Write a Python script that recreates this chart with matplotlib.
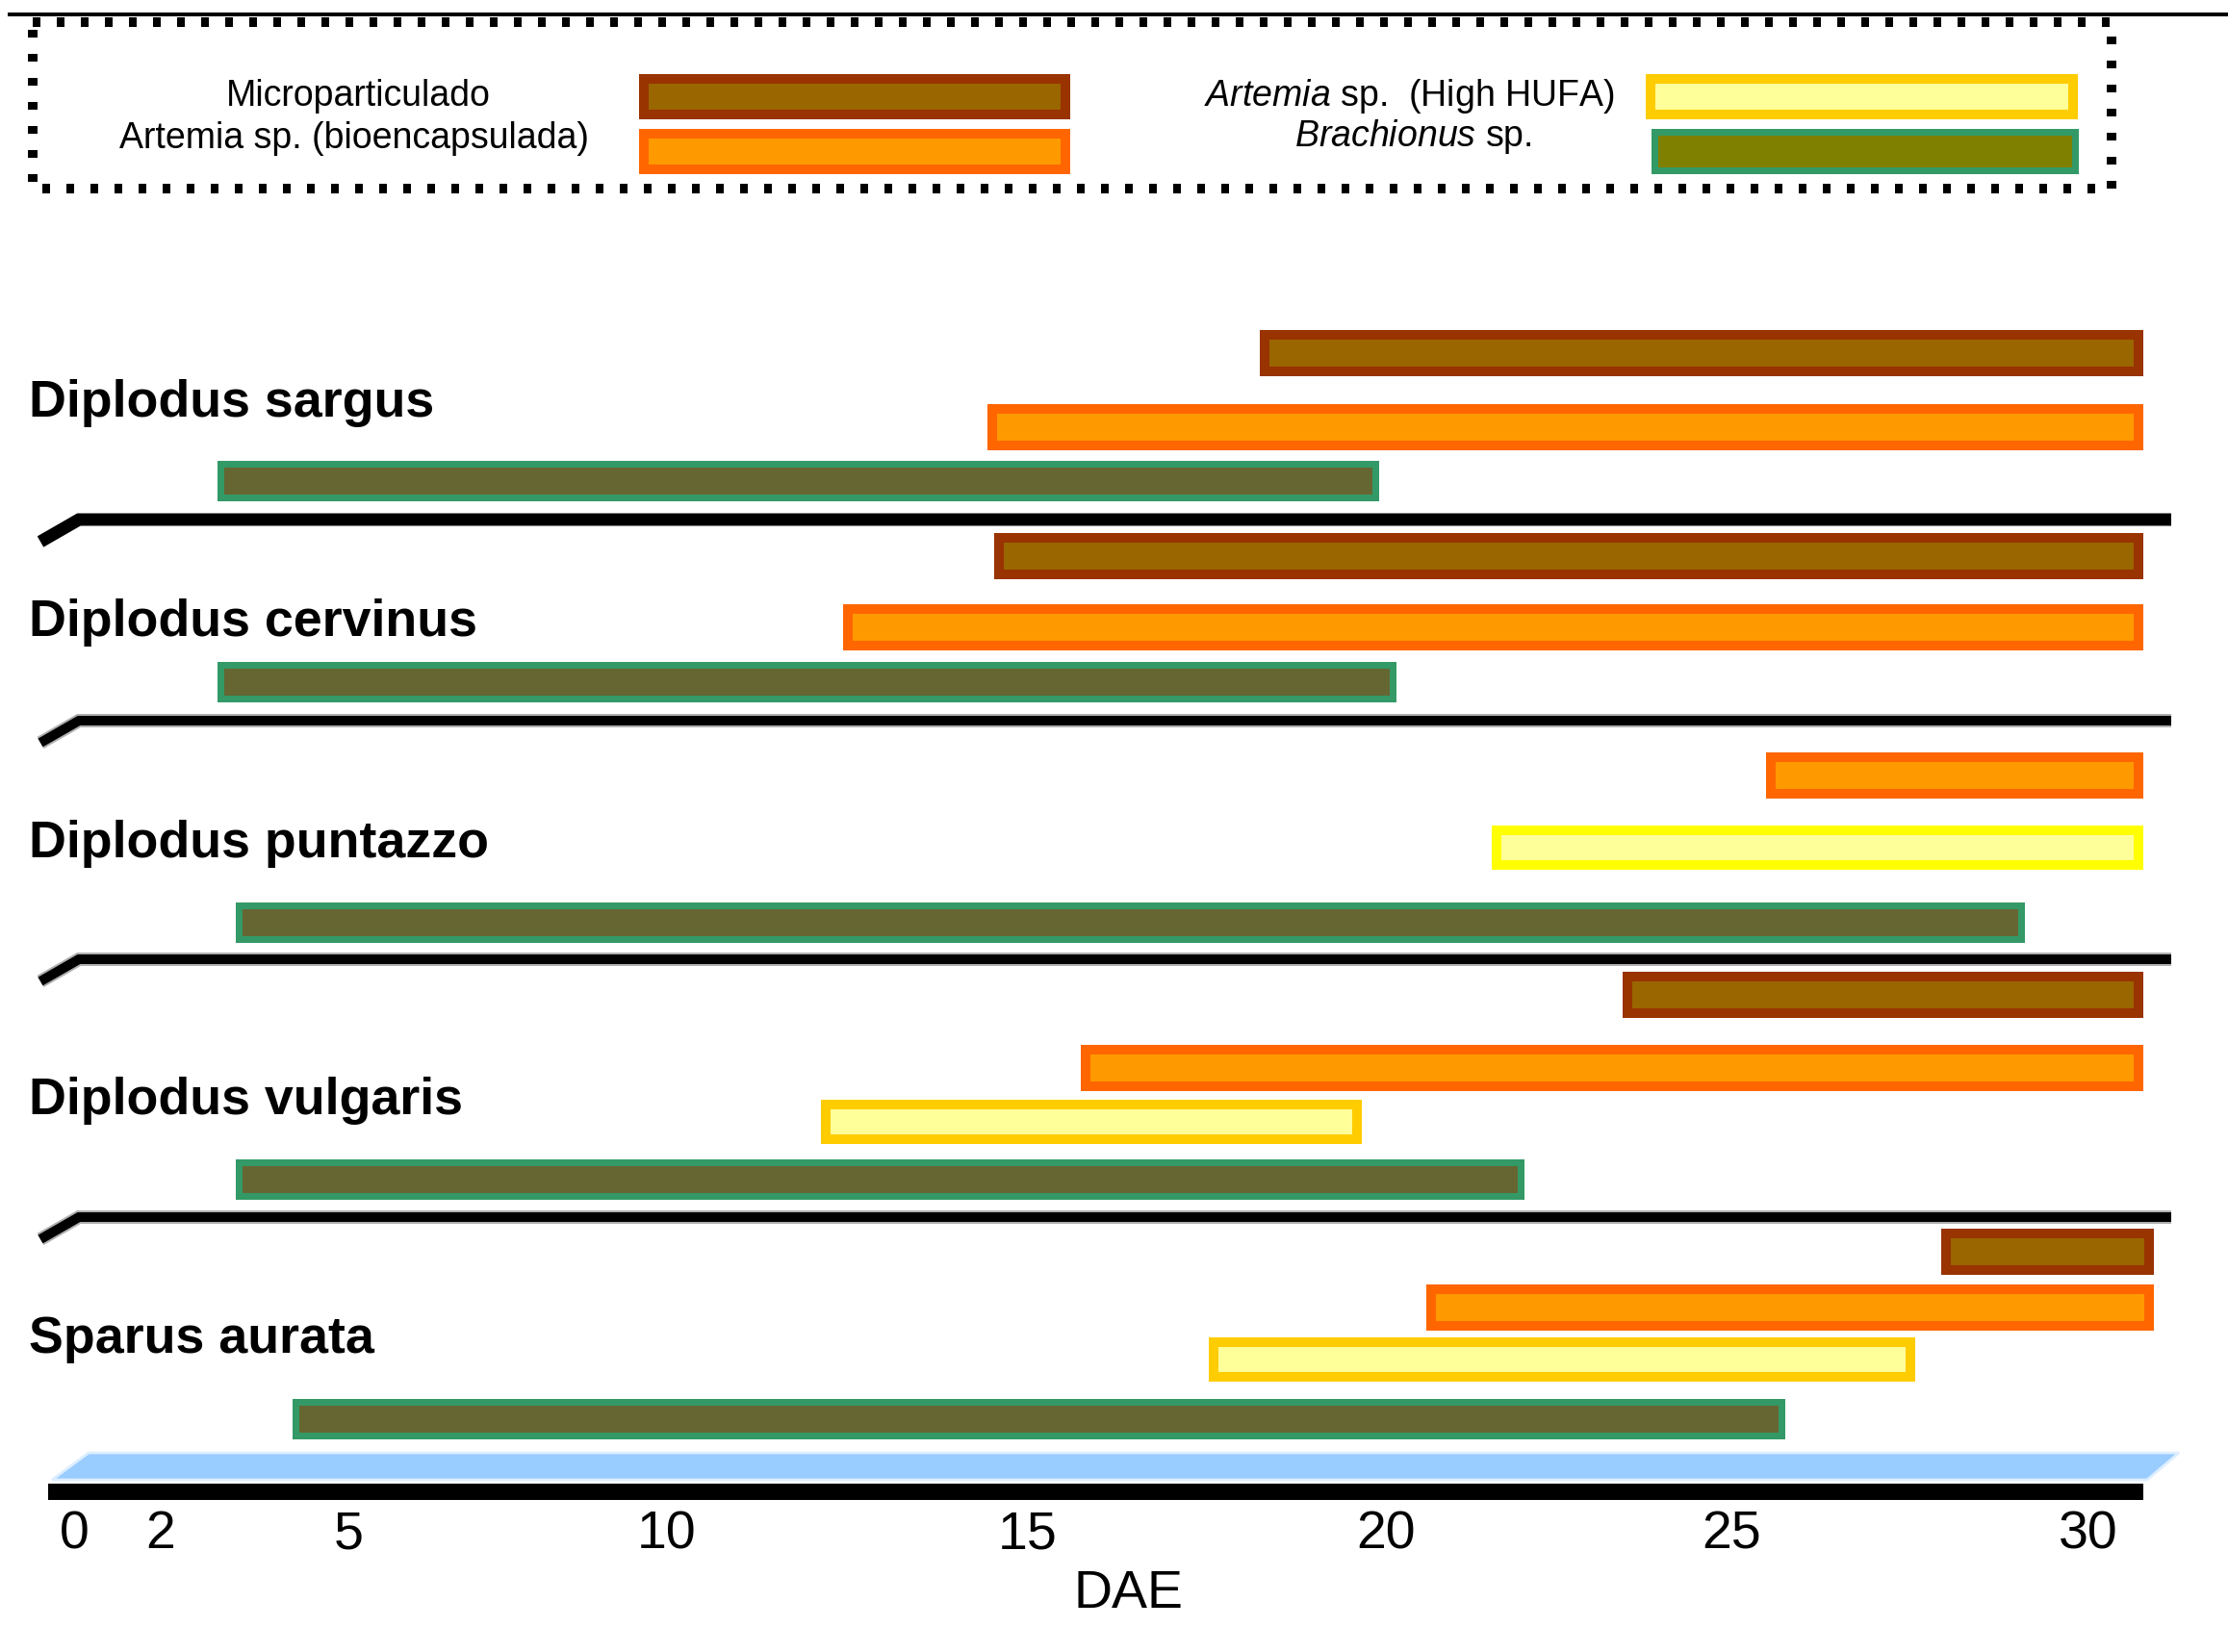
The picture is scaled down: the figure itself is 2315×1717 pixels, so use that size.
"""Feeding schedule of sparid larvae (days after hatching)"""
import numpy as np
import matplotlib
matplotlib.use('Agg')
from matplotlib import pyplot as plt
from matplotlib.patches import Rectangle, Polygon

# ---- data -----------------------------------------------------------------
species = ['Diplodus sargus', 'Diplodus cervinus', 'Diplodus puntazzo',
           'Diplodus vulgaris', 'Sparus aurata']
feeds = ['Microparticulado', 'Artemia sp. (bioencapsulada)',
         'Artemia sp. (High HUFA)', 'Brachionus sp.']
nan = np.nan
micro_start = [18.3, 14.6, nan, 23.5, 28.0]
micro_end = [30.7, 30.7, nan, 30.7, 30.85]
bio_start = [14.5, 12.5, 25.55, 15.8, 20.65]
bio_end = [30.7, 30.7, 30.7, 30.7, 30.85]
hufa_start = [nan, nan, 21.6, 12.2, 17.6]
hufa_end = [nan, nan, 30.7, 19.6, 27.5]
brach_start = [2.95, 2.95, 3.25, 3.25, 4.15]
brach_end = [19.85, 20.1, 29.05, 21.95, 25.7]
tick_days = [0, 2, 5, 10, 15, 20, 25, 30]

# ---- layout ---------------------------------------------------------------
W, H = 2315, 1717
# the day axis of the source is not evenly spaced: where each tick sits (px)
tick_pos = [77, 167, 362, 693, 1068, 1440, 1799, 2170]
rows_micro = [367, 578, nan, 1034, 1301]
rows_bio = [444, 652, 806, 1110, 1359]
rows_hufa = [nan, nan, 881, 1166, 1413]
rows_brach = [500, 709, 958, 1225, 1474]
label_baseline = [433, 661, 891, 1158, 1406]
separators = [540, 749, 997, 1265]
hufa_edges = ['#FFCC00', '#FFCC00', '#FFFF00', '#FFCC00', '#FFCC00']

PT = 0.72  # points per pixel at dpi 100
plt.rcParams['font.family'] = ['Liberation Sans', 'DejaVu Sans']
plt.rcParams['mathtext.fontset'] = 'custom'
plt.rcParams['mathtext.it'] = 'Liberation Sans:italic'
plt.rcParams['mathtext.rm'] = 'Liberation Sans'


def _piecewise(v, xs, ys):
    v = np.asarray(v, dtype=float)
    out = np.interp(v, xs, ys)
    s0 = (ys[1] - ys[0]) / (xs[1] - xs[0])
    s1 = (ys[-1] - ys[-2]) / (xs[-1] - xs[-2])
    out = np.where(v < xs[0], ys[0] + (v - xs[0]) * s0, out)
    out = np.where(v > xs[-1], ys[-1] + (v - xs[-1]) * s1, out)
    return out


def day_to_pos(d):
    return _piecewise(d, tick_days, tick_pos)


def pos_to_day(p):
    return _piecewise(p, tick_pos, tick_days)


fig = plt.figure(figsize=(W / 100, H / 100), dpi=100)
deco = fig.add_axes([0, 0, 1, 1])
deco.set_xlim(0, W)
deco.set_ylim(H, 0)
deco.axis('off')

ax = fig.add_axes([0, 0, 1, 1])
ax.patch.set_alpha(0)
ax.set_xscale('function', functions=(day_to_pos, pos_to_day))
ax.set_xlim(float(pos_to_day(0)), float(pos_to_day(W)))
ax.set_ylim(H, 0)
for s in ax.spines.values():
    s.set_visible(False)
ax.spines['bottom'].set_position(('data', 1559))
ax.set_yticks([])
ax.set_xticks(tick_days)
ax.set_xticklabels([str(t) for t in tick_days], fontsize=40)
ax.tick_params(axis='x', length=0, pad=10 * PT)
ax.set_xlabel('DAE', fontsize=40)
ax.xaxis.set_label_coords(1172 / W, 1 - 1631 / H)


def draw_bars(starts, ends, rows, face, edge, lw_px, h_outer):
    edges = edge if isinstance(edge, list) else [edge] * len(starts)
    for a, b, y, ec in zip(starts, ends, rows, edges):
        if np.isnan(a):
            continue
        ax.barh(y, b - a, left=a, height=h_outer - lw_px, color=face,
                edgecolor=ec, linewidth=lw_px * PT, joinstyle='miter')


draw_bars(micro_start, micro_end, rows_micro, '#996600', '#993300', 10, 48)
draw_bars(bio_start, bio_end, rows_bio, '#FF9900', '#FF6600', 10, 48)
draw_bars(hufa_start, hufa_end, rows_hufa, '#FFFF99', hufa_edges, 10, 46)
draw_bars(brach_start, brach_end, rows_brach, '#666633', '#339966', 7, 42)

# species names
for name, yb in zip(species, label_baseline):
    deco.text(30, yb, name, fontsize=38.7, fontweight='bold', va='baseline')

# separators with the little slanted start
for i, ys in enumerate(separators):
    xs_ = [42, 82, 2256]
    yy = [ys + 23, ys, ys]
    if i > 0:
        deco.plot(xs_, yy, color='#B0B0B0', lw=14 * PT, solid_capstyle='butt',
                  solid_joinstyle='miter')
    deco.plot(xs_, yy, color='black', lw=(13 if i == 0 else 10) * PT,
              solid_capstyle='butt', solid_joinstyle='miter')

# base of the time axis
deco.add_patch(Polygon([(92, 1510), (2264, 1510), (2231, 1538), (54, 1538)],
                       closed=True, fc='#99CCFF', ec='#DDEEFF', lw=2))
deco.add_patch(Rectangle((50, 1542), 2227 - 50, 17, fc='black', ec='none'))

# legend box
deco.plot([8, W], [15, 15], color='black', lw=4 * PT, solid_capstyle='butt')
deco.add_patch(Rectangle((34, 23), 2194 - 34, 196 - 23, fill=False, ec='black',
                         lw=10 * PT, linestyle=(0, (0.8, 1.7))))


def swatch(x0, y0, x1, y1, face, edge, lw_px):
    h = lw_px / 2
    deco.add_patch(Rectangle((x0 + h, y0 + h), x1 - x0 - 2 * h, y1 - y0 - 2 * h,
                             fc=face, ec=edge, lw=lw_px * PT, joinstyle='miter'))


swatch(664, 77, 1112, 124, '#996600', '#993300', 10)
swatch(664, 134, 1112, 181, '#FF9900', '#FF6600', 10)
swatch(1710, 77, 2159, 124, '#FFFF99', '#FFCC00', 10)
swatch(1715, 134, 2159, 181, '#808000', '#339966', 7)

deco.text(372, 110, feeds[0], fontsize=27, ha='center', va='baseline')
deco.text(368, 154, feeds[1], fontsize=27, ha='center', va='baseline')
deco.text(1464, 110, r'$\mathit{Artemia}$ sp.  (High HUFA)', fontsize=27,
          ha='center', va='baseline')
deco.text(1468, 152, r'$\mathit{Brachionus}$ sp.', fontsize=27,
          ha='center', va='baseline')

plt.savefig('out.png', dpi=100)
